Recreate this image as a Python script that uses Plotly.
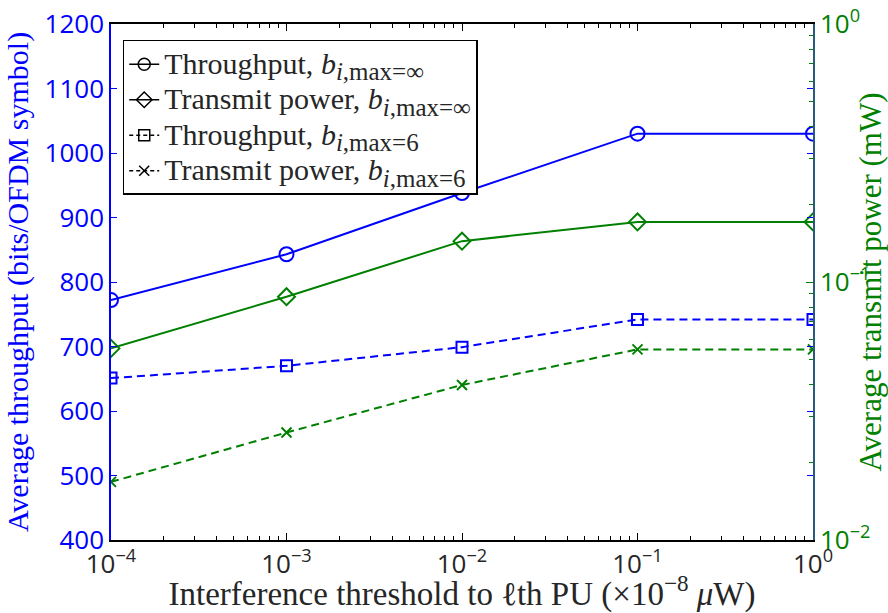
import plotly.graph_objects as go

# ---- data ----
thresholds = [1e-4, 1e-3, 1e-2, 1e-1, 1e0]
throughput_inf = [772, 843, 938, 1030, 1030]
power_inf = [0.0553, 0.0877, 0.144, 0.171, 0.171]
throughput_6 = [651, 670, 699, 742, 742]
power_6 = [0.0168, 0.0261, 0.0399, 0.0548, 0.0548]

LEG = '<span style="font-size:30px">{}, <i>b</i><sub><span style="font-size:25px">{}</span></sub></span>'
names = [
    LEG.format("Throughput", "<i>i</i>,max=∞"),
    LEG.format("Transmit power", "<i>i</i>,max=∞"),
    LEG.format("Throughput", "<i>i</i>,max=6"),
    LEG.format("Transmit power", "<i>i</i>,max=6"),
]

x_tickvals = [1e-4, 1e-3, 1e-2, 1e-1, 1e0]
x_ticktext = ["10<sup>−4</sup>", "10<sup>−3</sup>", "10<sup>−2</sup>", "10<sup>−1</sup>", "10<sup>0</sup>"]
y_tickvals = [400, 500, 600, 700, 800, 900, 1000, 1100, 1200]
y2_tickvals = [1e-2, 1e-1, 1e0]
y2_ticktext = ["10<sup>−2</sup>", "10<sup>−1</sup>", "10<sup>0</sup>"]

BLUE = "#0000FF"
GREEN = "#008000"
DARK = "#262626"
SERIF = "Liberation Serif"
SANS = "Open Sans"
DASH = "8px,5px"
TICKSIZE = 26

series = [
    (throughput_inf, "y", BLUE, "solid", "circle-open", 14),
    (power_inf, "y2", GREEN, "solid", "diamond-open", 13),
    (throughput_6, "y", BLUE, DASH, "square-open", 11),
    (power_6, "y2", GREEN, DASH, "x-thin-open", 10),
]

fig = go.Figure()
for (vals, yax, col, dash, sym, size) in series:
    fig.add_trace(go.Scatter(
        x=thresholds, y=vals, yaxis=yax, mode="lines+markers",
        line=dict(color=col, width=2, dash=dash),
        marker=dict(symbol=sym, size=size, color=col, line=dict(color=col, width=2)),
        showlegend=False,
    ))

# legend entries (black symbols as in the reference)
for i, (vals, yax, col, dash, sym, size) in enumerate(series):
    fig.add_trace(go.Scatter(
        x=[None], y=[None], yaxis=yax, mode="lines+markers", name=names[i],
        line=dict(color="black", width=1.5, dash="solid" if dash == "solid" else "4px,3px"),
        marker=dict(symbol=sym, size=min(size, 12), color="black", line=dict(color="black", width=1.5)),
        showlegend=True,
    ))

minor_x = [m * 10.0 ** e for e in range(-4, 0) for m in range(2, 10)]
minor_y2 = [m * 10.0 ** e for e in range(-2, 0) for m in range(2, 10)]

fig.update_layout(
    template="none",
    width=888, height=613,
    margin=dict(l=111, r=75, t=24, b=73, autoexpand=False),
    paper_bgcolor="white", plot_bgcolor="white",
    xaxis=dict(
        type="log", range=[-4, 0], automargin=False,
        tickmode="array", tickvals=x_tickvals, ticktext=x_ticktext,
        ticks="inside", ticklen=7, tickwidth=1, tickcolor="black",
        minor=dict(tickmode="array", tickvals=minor_x, ticks="inside", ticklen=4, tickcolor="black", showgrid=False),
        showline=True, linecolor="black", linewidth=1.5, mirror="ticks",
        showgrid=False, zeroline=False,
        ticklabelstandoff=0,
        tickfont=dict(family=SANS, size=TICKSIZE, color=DARK),
        title=dict(text="Interference threshold to ℓth PU (×10<sup>−8</sup> <i>μ</i>W)",
                   font=dict(family=SERIF, size=33, color=DARK), standoff=4),
    ),
    yaxis=dict(
        range=[400, 1200], tickmode="array", tickvals=y_tickvals, automargin=False,
        ticks="inside", ticklen=6, tickcolor=BLUE,
        showline=True, linecolor=BLUE, linewidth=1.5, mirror="ticks",
        showgrid=False, zeroline=False,
        tickfont=dict(family=SANS, size=TICKSIZE, color=BLUE),
        title=dict(text="Average throughput (bits/OFDM symbol)",
                   font=dict(family=SERIF, size=30, color=BLUE), standoff=7),
    ),
    yaxis2=dict(
        overlaying="y", side="right", type="log", range=[-2, 0], automargin=False,
        tickmode="array", tickvals=y2_tickvals, ticktext=y2_ticktext,
        ticks="inside", ticklen=7, tickcolor=GREEN,
        minor=dict(tickmode="array", tickvals=minor_y2, ticks="inside", ticklen=4, tickcolor=GREEN, showgrid=False),
        showline=True, linecolor="#2B5A80", linewidth=1.5,
        showgrid=False, zeroline=False,
        tickfont=dict(family=SANS, size=TICKSIZE, color=GREEN),
        title=dict(text="Average transmit power (mW)",
                   font=dict(family=SERIF, size=31, color=GREEN), standoff=6),
    ),
    legend=dict(
        x=0.0167, y=0.969, xanchor="left", yanchor="top",
        bgcolor="white", bordercolor="black", borderwidth=1.5,
        font=dict(family=SERIF, size=25, color=DARK),
        itemwidth=30,
    ),
)

fig.write_html("out.html")
